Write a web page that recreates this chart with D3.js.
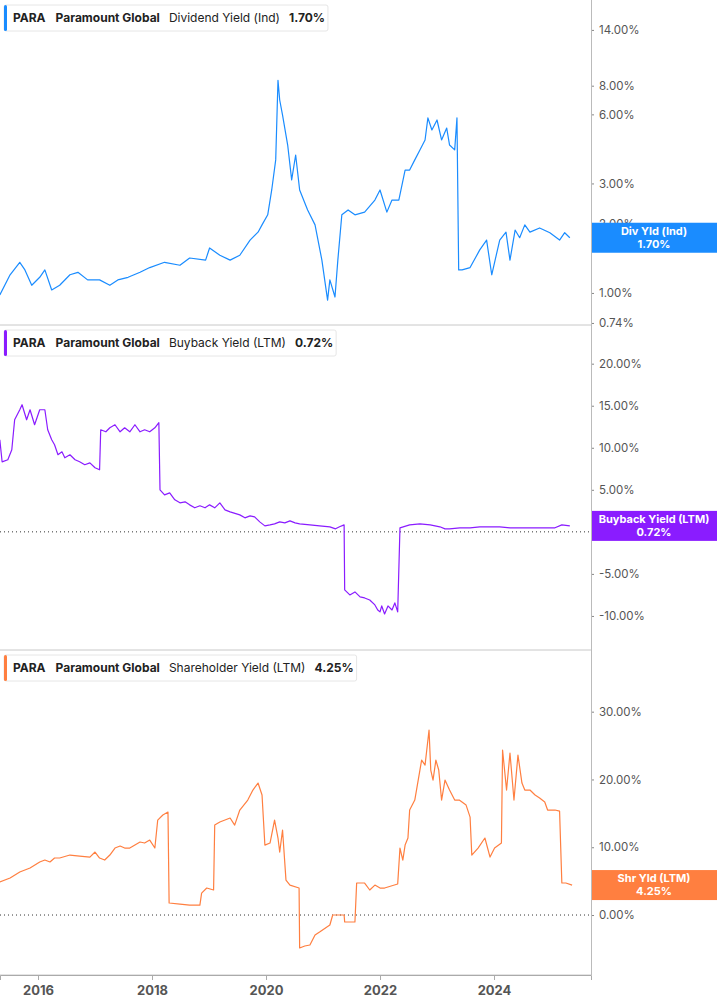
<!DOCTYPE html>
<html>
<head>
<meta charset="utf-8">
<script src="https://cdn.jsdelivr.net/npm/d3@7"></script>
<style>
  body { margin: 0; background: #fff; font-family: Inter, Roboto, sans-serif; }
  svg text { font-family: Inter, Roboto, sans-serif; }
</style>
</head>
<body>
<svg id="chart" width="717" height="1005"></svg>
<script>
// dividend yield (ind), %
var divYears = [2015.33, 2015.51, 2015.68, 2015.77, 2015.89, 2016.03, 2016.12, 2016.24, 2016.38, 2016.56, 2016.70, 2016.87, 2017.08, 2017.26, 2017.40, 2017.58, 2017.79, 2017.96, 2018.22, 2018.49, 2018.66, 2018.94, 2019.01, 2019.19, 2019.37, 2019.54, 2019.72, 2019.86, 2019.93, 2020.03, 2020.10, 2020.17, 2020.21, 2020.24, 2020.29, 2020.38, 2020.45, 2020.52, 2020.59, 2020.73, 2020.86, 2020.98, 2021.08, 2021.12, 2021.21, 2021.26, 2021.33, 2021.44, 2021.56, 2021.73, 2021.91, 2022.00, 2022.12, 2022.21, 2022.33, 2022.44, 2022.52, 2022.61, 2022.70, 2022.79, 2022.84, 2022.91, 2023.00, 2023.08, 2023.17, 2023.22, 2023.31, 2023.35, 2023.38, 2023.44, 2023.58, 2023.75, 2023.87, 2023.96, 2024.10, 2024.21, 2024.28, 2024.37, 2024.45, 2024.54, 2024.63, 2024.80, 2024.98, 2025.15, 2025.24, 2025.33]
var divValues = [0.98, 1.20, 1.36, 1.26, 1.08, 1.17, 1.26, 1.03, 1.08, 1.20, 1.23, 1.14, 1.14, 1.08, 1.14, 1.17, 1.23, 1.29, 1.36, 1.32, 1.42, 1.39, 1.57, 1.46, 1.39, 1.46, 1.70, 1.84, 1.98, 2.19, 2.81, 3.80, 8.45, 6.93, 5.96, 4.41, 3.11, 3.99, 2.81, 2.30, 1.98, 1.39, 0.93, 1.14, 0.96, 1.39, 2.19, 2.30, 2.19, 2.25, 2.54, 2.81, 2.25, 2.54, 2.54, 3.43, 3.43, 3.80, 4.20, 4.64, 5.79, 5.13, 5.67, 4.64, 5.23, 4.41, 4.20, 5.79, 1.26, 1.26, 1.29, 1.54, 1.70, 1.20, 1.70, 1.84, 1.39, 1.88, 1.74, 1.98, 1.84, 1.92, 1.83, 1.70, 1.83, 1.74]

// buyback yield (LTM), %
var buyYears = [2015.33, 2015.37, 2015.47, 2015.54, 2015.59, 2015.68, 2015.72, 2015.80, 2015.86, 2015.94, 2016.03, 2016.12, 2016.17, 2016.24, 2016.29, 2016.35, 2016.42, 2016.47, 2016.56, 2016.65, 2016.73, 2016.82, 2016.91, 2017.00, 2017.08, 2017.10, 2017.19, 2017.26, 2017.35, 2017.44, 2017.52, 2017.61, 2017.70, 2017.79, 2017.87, 2017.96, 2018.05, 2018.12, 2018.14, 2018.22, 2018.31, 2018.40, 2018.49, 2018.58, 2018.66, 2018.75, 2018.84, 2018.93, 2019.01, 2019.10, 2019.19, 2019.28, 2019.37, 2019.54, 2019.63, 2019.72, 2019.80, 2019.89, 2019.98, 2020.07, 2020.15, 2020.24, 2020.33, 2020.42, 2020.51, 2020.59, 2020.77, 2020.94, 2021.12, 2021.22, 2021.29, 2021.37, 2021.38, 2021.47, 2021.56, 2021.65, 2021.73, 2021.82, 2021.91, 2021.96, 2022.00, 2022.03, 2022.08, 2022.14, 2022.21, 2022.26, 2022.31, 2022.35, 2022.52, 2022.70, 2022.88, 2023.05, 2023.14, 2023.22, 2023.40, 2023.58, 2023.75, 2023.93, 2024.10, 2024.28, 2024.45, 2024.63, 2024.80, 2025.07, 2025.19, 2025.33]
var buyValues = [10.95, 8.33, 8.57, 9.76, 13.33, 14.52, 15.12, 13.33, 14.52, 12.74, 14.52, 14.52, 12.14, 10.95, 10.36, 9.17, 9.52, 8.81, 9.17, 8.57, 8.33, 7.98, 8.21, 7.62, 7.38, 12.14, 11.9, 12.38, 12.74, 11.9, 12.38, 11.9, 12.74, 11.9, 12.14, 11.9, 12.38, 12.98, 5.0, 4.4, 4.64, 3.81, 3.45, 3.57, 3.21, 2.86, 3.10, 2.86, 3.21, 2.86, 3.45, 2.62, 2.38, 2.02, 1.67, 1.9, 1.79, 1.19, 0.71, 0.83, 0.95, 1.19, 1.07, 1.31, 1.07, 0.95, 0.83, 0.71, 0.6, 0.36, 0.6, 0.83, -6.9, -7.5, -7.14, -7.74, -7.86, -8.1, -8.69, -9.29, -9.52, -8.81, -9.76, -8.81, -9.29, -8.45, -9.52, 0.48, 0.83, 0.95, 0.83, 0.6, 0.36, 0.36, 0.48, 0.48, 0.6, 0.6, 0.6, 0.48, 0.48, 0.48, 0.48, 0.48, 0.83, 0.71]

// shareholder yield (LTM), %
var shrYears = [2015.33, 2015.51, 2015.68, 2015.86, 2016.03, 2016.12, 2016.21, 2016.29, 2016.38, 2016.56, 2016.73, 2016.91, 2017.00, 2017.08, 2017.17, 2017.26, 2017.35, 2017.44, 2017.52, 2017.61, 2017.70, 2017.79, 2017.87, 2017.96, 2018.05, 2018.10, 2018.19, 2018.28, 2018.30, 2018.49, 2018.66, 2018.84, 2018.87, 2018.96, 2019.08, 2019.10, 2019.19, 2019.37, 2019.45, 2019.54, 2019.68, 2019.77, 2019.86, 2019.93, 2019.98, 2020.07, 2020.15, 2020.21, 2020.24, 2020.29, 2020.35, 2020.42, 2020.58, 2020.59, 2020.68, 2020.77, 2020.86, 2020.94, 2021.12, 2021.17, 2021.29, 2021.37, 2021.38, 2021.56, 2021.59, 2021.73, 2021.82, 2021.91, 2022.00, 2022.08, 2022.31, 2022.35, 2022.40, 2022.44, 2022.49, 2022.52, 2022.61, 2022.70, 2022.73, 2022.79, 2022.86, 2022.89, 2022.93, 2022.98, 2023.03, 2023.08, 2023.14, 2023.22, 2023.31, 2023.39, 2023.51, 2023.58, 2023.61, 2023.72, 2023.84, 2023.93, 2024.01, 2024.13, 2024.15, 2024.22, 2024.28, 2024.35, 2024.42, 2024.49, 2024.54, 2024.63, 2024.72, 2024.80, 2024.89, 2024.94, 2025.07, 2025.15, 2025.19, 2025.26, 2025.37]
var shrValues = [4.87, 5.46, 6.34, 6.93, 7.82, 8.11, 7.82, 8.41, 8.41, 8.85, 8.70, 8.55, 9.29, 8.41, 8.11, 8.85, 9.88, 10.18, 9.88, 9.88, 10.32, 10.77, 10.62, 11.06, 9.88, 14.01, 14.75, 15.19, 1.77, 1.62, 1.47, 1.47, 3.24, 3.98, 3.69, 13.27, 13.72, 14.31, 13.27, 15.49, 16.96, 18.44, 19.47, 17.7, 10.32, 10.62, 14.01, 11.36, 9.29, 12.54, 5.16, 4.42, 3.98, -4.87, -4.57, -4.42, -2.95, -2.51, -1.47, 0, 0, 0, -1.03, -1.03, 4.72, 4.72, 3.69, 4.42, 3.98, 3.98, 4.57, 9.88, 8.11, 10.32, 11.36, 15.49, 16.96, 21.39, 22.86, 22.12, 27.29, 21.39, 19.91, 22.86, 21.39, 16.96, 19.91, 18.44, 16.96, 16.96, 16.22, 14.45, 8.85, 9.88, 11.36, 8.55, 9.88, 10.62, 24.34, 18.44, 23.89, 16.96, 23.6, 19.47, 18.44, 18.44, 17.7, 17.26, 16.67, 15.49, 15.49, 15.34, 4.72, 4.72, 4.42]

var xTicks = [2016, 2018, 2020, 2022, 2024]
var divTicks = [0.74, 1, 2, 3, 6, 8, 14]
var buyTicks = [-10, -5, 0, 5, 10, 15, 20]
var shrTicks = [0, 10, 20, 30]

var panels = [
  {ticker: 'PARA', name: 'Paramount Global', metric: 'Dividend Yield (Ind)', last: '1.70%',
   tag: 'Div Yld (Ind)', color: '#1a8cff', years: divYears, values: divValues, ticks: divTicks,
   log: true, domain: [0.725, 18.9], zero: false},
  {ticker: 'PARA', name: 'Paramount Global', metric: 'Buyback Yield (LTM)', last: '0.72%',
   tag: 'Buyback Yield (LTM)', color: '#8a1cff', years: buyYears, values: buyValues, ticks: buyTicks,
   log: false, domain: [-14.05, 24.6], zero: true},
  {ticker: 'PARA', name: 'Paramount Global', metric: 'Shareholder Yield (LTM)', last: '4.25%',
   tag: 'Shr Yld (LTM)', color: '#ff7f40', years: shrYears, values: shrValues, ticks: shrTicks,
   log: false, domain: [-8.85, 39.1], zero: true}
]

var svg = d3.select('#chart')
var plotW = 591
var panelH = 325

var x = d3.scaleLinear().domain([2015.333, 2015.333 + plotW / 57]).range([0, plotW])

panels.forEach(function (p, i) {
  var top = i * panelH
  var g = svg.append('g').attr('transform', 'translate(0,' + top + ')')
  var y = (p.log ? d3.scaleLog() : d3.scaleLinear()).domain(p.domain).range([panelH, 0])

  // separator under each panel
  g.append('line').attr('x1', 0).attr('x2', plotW)
    .attr('y1', panelH).attr('y2', panelH)
    .attr('stroke', '#c8c8c8').attr('stroke-width', 1)

  if (p.zero) {
    g.append('line').attr('x1', 0).attr('x2', plotW)
      .attr('y1', y(0)).attr('y2', y(0))
      .attr('stroke', '#333').attr('stroke-dasharray', '1,3')
  }

  // right axis
  var axis = d3.axisRight(y).tickValues(p.ticks).tickSize(3).tickPadding(5)
    .tickFormat(function (d) { return d.toFixed(2) + '%' })
  var ag = g.append('g').attr('transform', 'translate(' + plotW + ',0)').call(axis)
  ag.select('.domain').remove()
  ag.selectAll('line').attr('stroke', '#888')
  ag.selectAll('text').attr('fill', '#555').attr('font-size', 11.5)

  var line = d3.line()
    .x(function (d) { return x(d[0]) })
    .y(function (d) { return y(d[1]) })
  var pts = d3.zip(p.years, p.values)
  g.append('path').datum(pts)
    .attr('fill', 'none')
    .attr('stroke', p.color)
    .attr('stroke-width', 1.2)
    .attr('stroke-linejoin', 'round')
    .attr('d', line)

  // legend box
  var lg = g.append('g').attr('transform', 'translate(4,5)')
  var rect = lg.append('rect').attr('height', 26).attr('rx', 2)
    .attr('fill', '#fff').attr('stroke', '#e6e6e6')
  lg.append('rect').attr('width', 3).attr('height', 26).attr('rx', 1.5).attr('fill', p.color)
  var t = lg.append('text').attr('x', 9).attr('y', 17).attr('font-size', 12).attr('fill', '#222')
  t.append('tspan').attr('font-weight', 700).text(p.ticker)
  t.append('tspan').attr('dx', 10).attr('font-weight', 700).text(p.name)
  t.append('tspan').attr('dx', 9).attr('font-weight', 400).text(p.metric)
  t.append('tspan').attr('dx', 9).attr('font-weight', 700).text(p.last)
  rect.attr('width', t.node().getComputedTextLength() + 40)

  // last value tag
  var lastV = p.values[p.values.length - 1]
  var ty = y(lastV)
  var tg = g.append('g').attr('transform', 'translate(' + plotW + ',' + (ty - 15) + ')')
  tg.append('rect').attr('width', 717 - plotW).attr('height', 30).attr('fill', p.color)
  tg.append('text').attr('x', (717 - plotW) / 2).attr('y', 12).attr('text-anchor', 'middle')
    .attr('fill', '#fff').attr('font-size', 11).attr('font-weight', 700).text(p.tag)
  tg.append('text').attr('x', (717 - plotW) / 2).attr('y', 25).attr('text-anchor', 'middle')
    .attr('fill', '#fff').attr('font-size', 11).attr('font-weight', 700).text(p.last)
})

// vertical axis line
svg.append('line').attr('x1', plotW + 0.5).attr('x2', plotW + 0.5)
  .attr('y1', 0).attr('y2', 975).attr('stroke', '#bbb')

// shared time axis
var xg = svg.append('g').attr('transform', 'translate(0,975)')
  .call(d3.axisBottom(x).tickValues(xTicks).tickSize(5).tickPadding(6).tickFormat(d3.format('d')))
xg.select('.domain').attr('stroke', '#aaa')
xg.selectAll('line').attr('stroke', '#aaa')
xg.selectAll('text').attr('fill', '#555').attr('font-size', 13).attr('font-weight', 700)
</script>
</body>
</html>
